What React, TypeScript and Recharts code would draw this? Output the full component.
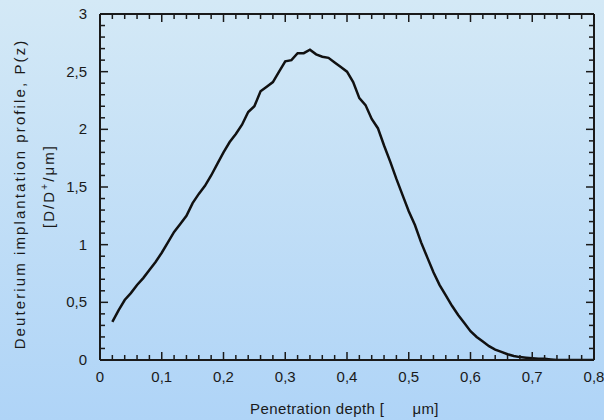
import React from 'react';
import { LineChart, Line, XAxis, YAxis } from 'recharts';

// Penetration depth [µm]
const depth = [
  0.02, 0.03, 0.04, 0.05, 0.06, 0.07, 0.08, 0.09, 0.1, 0.11, 0.12, 0.13, 0.14, 0.15,
  0.16, 0.17, 0.18, 0.19, 0.2, 0.21, 0.22, 0.23, 0.24, 0.25, 0.26, 0.27, 0.28, 0.29,
  0.3, 0.31, 0.32, 0.33, 0.34, 0.35, 0.36, 0.37, 0.38, 0.39, 0.4, 0.41, 0.42, 0.43,
  0.44, 0.45, 0.46, 0.47, 0.48, 0.49, 0.5, 0.51, 0.52, 0.53, 0.54, 0.55, 0.56, 0.57,
  0.58, 0.59, 0.6, 0.61, 0.62, 0.63, 0.64, 0.65, 0.66, 0.67, 0.68, 0.69, 0.7, 0.71,
  0.72, 0.73, 0.74, 0.75, 0.76, 0.77, 0.78, 0.79, 0.8,
];

// Deuterium implantation profile P(z) [D/D+/µm]
const profile = [
  0.33, 0.43, 0.52, 0.58, 0.65, 0.71, 0.78, 0.85, 0.93, 1.02, 1.11, 1.18, 1.25, 1.36,
  1.44, 1.51, 1.6, 1.7, 1.8, 1.89, 1.96, 2.04, 2.15, 2.2, 2.33, 2.37, 2.41, 2.5,
  2.59, 2.6, 2.66, 2.66, 2.69, 2.65, 2.63, 2.62, 2.58, 2.54, 2.5, 2.41, 2.27, 2.21,
  2.09, 2.01, 1.86, 1.72, 1.57, 1.43, 1.29, 1.17, 1.02, 0.89, 0.76, 0.65, 0.56, 0.47,
  0.39, 0.32, 0.25, 0.2, 0.16, 0.12, 0.09, 0.07, 0.05, 0.035, 0.025, 0.02, 0.015, 0.01,
  0.01, 0.005, 0, 0, 0, 0, 0, 0, 0,
];

const xMajorTicks = [0, 0.1, 0.2, 0.3, 0.4, 0.5, 0.6, 0.7, 0.8];
const yMajorTicks = [0, 0.5, 1, 1.5, 2, 2.5, 3];
const xMinorCount = 5; // subdivisions between major x ticks
const yMinorCount = 5; // subdivisions between major y ticks

const data = depth.map((d, i) => ({ depth: d, p: profile[i] }));

const buildTicks = (majors: number[], sub: number) => {
  const out: number[] = [];
  for (let i = 0; i < majors.length - 1; i++) {
    const a = majors[i];
    const b = majors[i + 1];
    for (let k = 0; k < sub; k++) out.push(Math.round((a + ((b - a) * k) / sub) * 1e6) / 1e6);
  }
  out.push(majors[majors.length - 1]);
  return out;
};

const xTicks = buildTicks(xMajorTicks, xMinorCount);
const yTicks = buildTicks(yMajorTicks, yMinorCount);

const isMajor = (v: number, majors: number[]) => majors.some((m) => Math.abs(m - v) < 1e-6);
const fmt = (v: number) => String(v).replace('.', ',');

const INK = '#1a1a1a';
const FONT = '"Liberation Sans", Arial, sans-serif';
const MAJOR = 8;
const MINOR = 5;

const BottomTick = (props: any) => {
  const { x, y, payload } = props;
  const major = isMajor(payload.value, xMajorTicks);
  return (
    <g>
      <line x1={x} x2={x} y1={y} y2={y - (major ? MAJOR : MINOR)} stroke={INK} strokeWidth={1.5} />
      {major && (
        <text x={x} y={y + 22} textAnchor="middle" fontFamily={FONT} fontSize={15} fill={INK}>
          {fmt(payload.value)}
        </text>
      )}
    </g>
  );
};

const TopTick = (props: any) => {
  const { x, y, payload } = props;
  const major = isMajor(payload.value, xMajorTicks);
  return <line x1={x} x2={x} y1={y} y2={y + (major ? MAJOR : MINOR)} stroke={INK} strokeWidth={1.5} />;
};

const LeftTick = (props: any) => {
  const { x, y, payload } = props;
  const major = isMajor(payload.value, yMajorTicks);
  return (
    <g>
      <line x1={x} x2={x + (major ? MAJOR : MINOR)} y1={y} y2={y} stroke={INK} strokeWidth={1.5} />
      {major && (
        <text x={x - 13} y={y + 5} textAnchor="end" fontFamily={FONT} fontSize={15} fill={INK}>
          {fmt(payload.value)}
        </text>
      )}
    </g>
  );
};

const RightTick = (props: any) => {
  const { x, y, payload } = props;
  const major = isMajor(payload.value, yMajorTicks);
  return <line x1={x} x2={x - (major ? MAJOR : MINOR)} y1={y} y2={y} stroke={INK} strokeWidth={1.5} />;
};

export default function App() {
  return (
    <div
      style={{
        position: 'fixed',
        left: 0,
        top: 0,
        width: 604,
        height: 420,
        background: 'linear-gradient(to bottom, #d4e9f6 0%, #afd4f7 100%)',
      }}
    >
      <LineChart
        width={604}
        height={420}
        data={data}
        margin={{ top: 13, right: 9, left: 0, bottom: 0 }}
        style={{ position: 'absolute', left: 0, top: 0 }}
      >
        <XAxis
          xAxisId="b"
          dataKey="depth"
          type="number"
          domain={[0, 0.8]}
          ticks={xTicks}
          interval={0}
          height={60}
          tickSize={0}
          tickMargin={0}
          tickLine={false}
          axisLine={{ stroke: INK, strokeWidth: 2 }}
          tick={<BottomTick />}
          allowDataOverflow
        />
        <XAxis
          xAxisId="t"
          orientation="top"
          dataKey="depth"
          type="number"
          domain={[0, 0.8]}
          ticks={xTicks}
          interval={0}
          height={1}
          tickSize={0}
          tickMargin={0}
          tickLine={false}
          axisLine={{ stroke: INK, strokeWidth: 2 }}
          tick={<TopTick />}
          allowDataOverflow
        />
        <YAxis
          yAxisId="l"
          type="number"
          domain={[0, 3]}
          ticks={yTicks}
          interval={0}
          width={100}
          tickSize={0}
          tickMargin={0}
          tickLine={false}
          axisLine={{ stroke: INK, strokeWidth: 2 }}
          tick={<LeftTick />}
          allowDataOverflow
        />
        <YAxis
          yAxisId="r"
          orientation="right"
          type="number"
          domain={[0, 3]}
          ticks={yTicks}
          interval={0}
          width={1}
          tickSize={0}
          tickMargin={0}
          tickLine={false}
          axisLine={{ stroke: INK, strokeWidth: 2 }}
          tick={<RightTick />}
          allowDataOverflow
        />
        <Line
          xAxisId="b"
          yAxisId="l"
          dataKey="p"
          type="linear"
          stroke="#111"
          strokeWidth={2.5}
          dot={false}
          activeDot={false}
          isAnimationActive={false}
        />
      </LineChart>
      <svg
        width={604}
        height={420}
        style={{ position: 'absolute', left: 0, top: 0, pointerEvents: 'none' }}
      >
        <text
          transform="translate(25,194) rotate(-90)"
          textAnchor="middle"
          fontFamily={FONT}
          fontSize={15}
          letterSpacing={2.1}
          fill={INK}
        >
          Deuterium implantation profile, P(z)
        </text>
        <text
          transform="translate(54,186) rotate(-90)"
          textAnchor="middle"
          fontFamily={FONT}
          fontSize={15}
          letterSpacing={2.1}
          fill={INK}
        >
          [D/D
          <tspan fontSize={10} dy={-6}>+</tspan>
          <tspan dy={6}>/μm]</tspan>
        </text>
        <text x={250} y={414} fontFamily={FONT} fontSize={15} letterSpacing={0.4} fill={INK}>
          Penetration depth [
          <tspan dx={28}>μm]</tspan>
        </text>
      </svg>
    </div>
  );
}
